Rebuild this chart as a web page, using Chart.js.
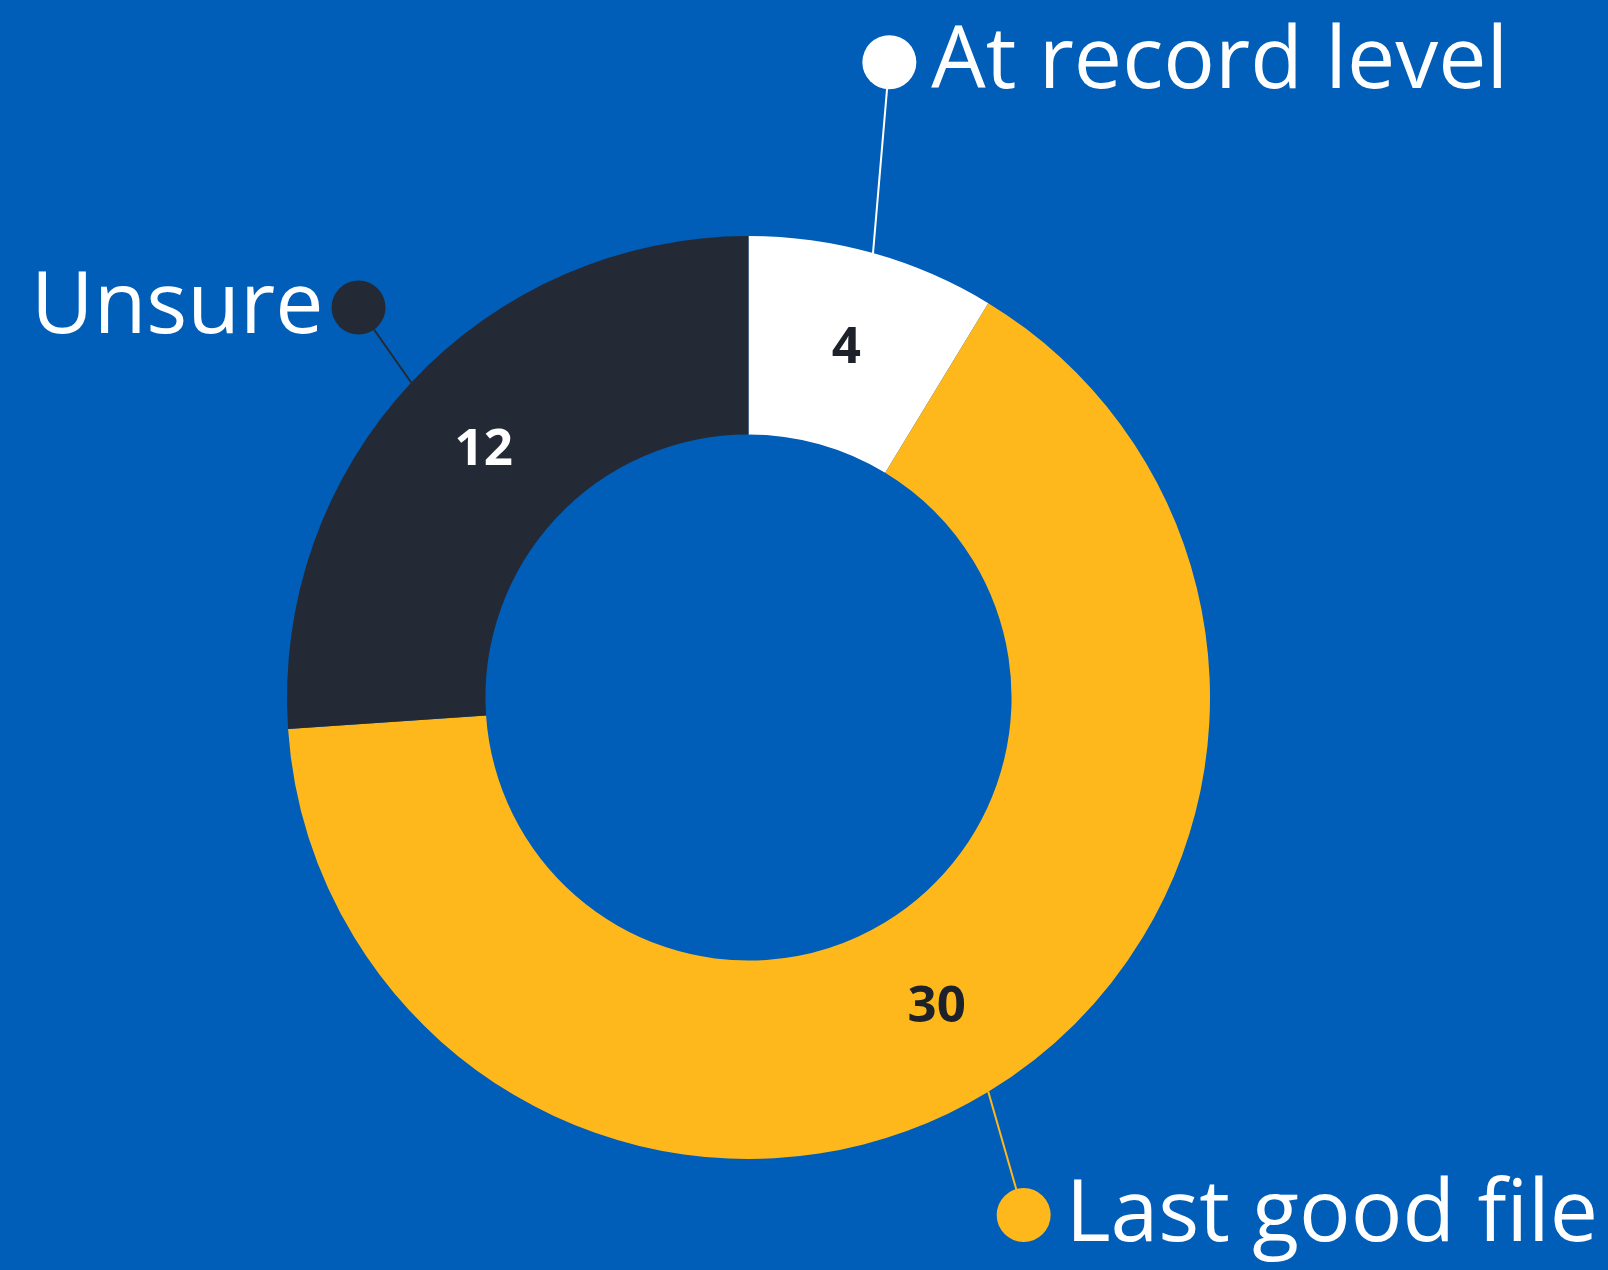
<!DOCTYPE html>
<html>
<head>
<meta charset="utf-8">
<script src="https://cdn.jsdelivr.net/npm/chart.js@4/dist/chart.umd.min.js"></script>
<style>
body { margin: 0; background: #005eb8; }
#wrap { width: 1608px; height: 1270px; position: relative; }
</style>
</head>
<body>
<div id="wrap"><canvas id="chart"></canvas></div>
<script>
const labels = ['At record level', 'Last good file', 'Unsure'];
const values = [4, 30, 12];
const sliceColors = ['#ffffff', '#ffb81c', '#232a35'];
const valueColors = ['#1d2129', '#1d2129', '#ffffff'];

// callout dots: angle in degrees from top (clockwise) and distance as a multiple of the outer radius
const calloutAngles = [12.5, 152, 315];
const calloutDist = [1.41, 1.27, 1.195];
const calloutAlign = ['left', 'left', 'right'];

const callouts = {
		id: 'callouts',
		afterDatasetsDraw(chart) {
				const ctx = chart.ctx;
				const meta = chart.getDatasetMeta(0);
				meta.data.forEach((arc, i) => {
						const { x, y, startAngle, endAngle, outerRadius } = arc.getProps(['x', 'y', 'startAngle', 'endAngle', 'outerRadius'], true);
						const mid = (startAngle + endAngle) / 2;
						const sx = x + Math.cos(mid) * outerRadius;
						const sy = y + Math.sin(mid) * outerRadius;
						const a = (calloutAngles[i] - 90) * Math.PI / 180;
						const dx = x + Math.cos(a) * outerRadius * calloutDist[i];
						const dy = y + Math.sin(a) * outerRadius * calloutDist[i];

						ctx.save();
						// leader line
						ctx.strokeStyle = sliceColors[i];
						ctx.lineWidth = 2;
						ctx.beginPath();
						ctx.moveTo(sx, sy);
						ctx.lineTo(dx, dy);
						ctx.stroke();
						// dot
						ctx.fillStyle = sliceColors[i];
						ctx.beginPath();
						ctx.arc(dx, dy, 27, 0, Math.PI * 2);
						ctx.fill();
						// label text
						ctx.fillStyle = '#ffffff';
						ctx.font = '400 86px "Open Sans", sans-serif';
						ctx.textBaseline = 'middle';
						ctx.textAlign = calloutAlign[i];
						const tx = calloutAlign[i] === 'left' ? dx + 42 : dx - 35;
						ctx.fillText(labels[i], tx, dy + 1);

						// value inside the slice
						const p = arc.tooltipPosition(true);
						ctx.fillStyle = valueColors[i];
						ctx.font = 'bold 51px "Open Sans", sans-serif';
						ctx.textAlign = 'center';
						ctx.fillText(values[i], p.x, p.y);
						ctx.restore();
				});
		}
};

const chart = new Chart(document.getElementById('chart'), {
		type: 'doughnut',
		data: {
				labels: labels,
				datasets: [{
						data: values,
						backgroundColor: sliceColors,
						borderWidth: 0
				}]
		},
		options: {
				responsive: true,
				maintainAspectRatio: false,
				animation: false,
				cutout: '57%',
				layout: {
						padding: { left: 287, right: 398, top: 236, bottom: 111 }
				},
				plugins: {
						legend: { display: false },
						tooltip: { enabled: false }
				}
		},
		plugins: [callouts]
});
</script>
</body>
</html>
